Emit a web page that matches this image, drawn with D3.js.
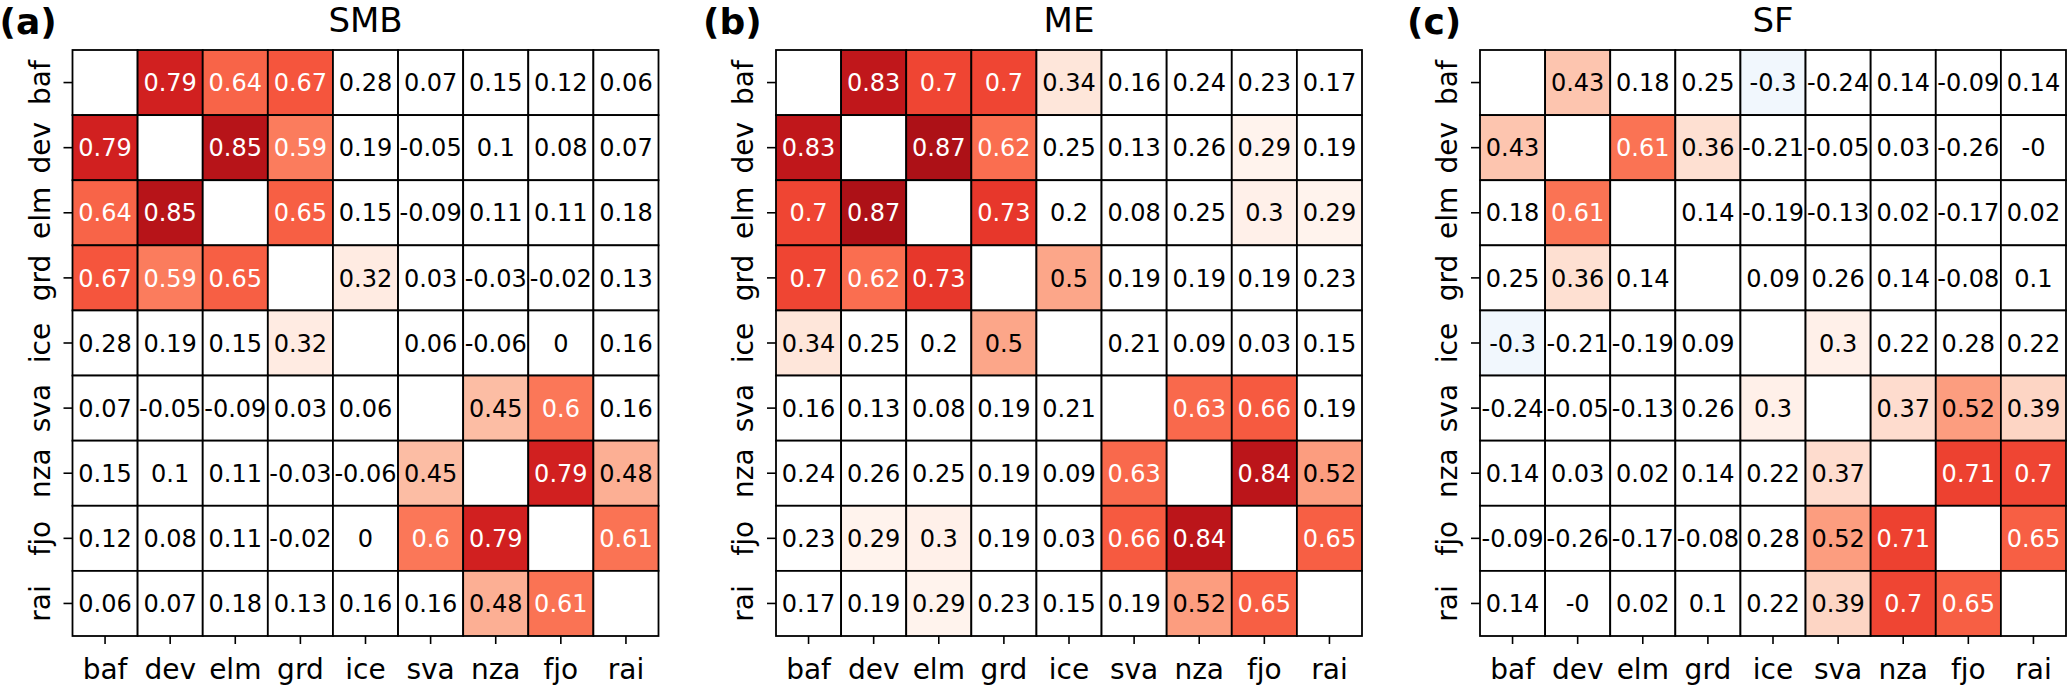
<!DOCTYPE html>
<html lang="en">

<head>
  <meta charset="UTF-8">
  <title>Correlation heatmaps SMB / ME / SF</title>
  <script src="https://cdn.jsdelivr.net/npm/d3@7.9.0/dist/d3.min.js"></script>
  <style>
    html,
    body {
      margin: 0;
      padding: 0;
      background: #fff;
    }

    svg text {
      font-family: "DejaVu Sans", sans-serif;
    }
  </style>
</head>

<body>
  <svg id="chart" width="2067" height="686"></svg>

  <script>
    // regions, same order on both axes
    const regions = ["baf", "dev", "elm", "grd", "ice", "sva", "nza", "fjo", "rai"];
    const panelLetters = ["(a)", "(b)", "(c)"];
    const panelTitles = ["SMB", "ME", "SF"];

    // correlation matrices (null = diagonal, left blank)
    const smbValues = [
      [null, 0.79, 0.64, 0.67, 0.28, 0.07, 0.15, 0.12, 0.06],
      [0.79, null, 0.85, 0.59, 0.19, -0.05, 0.1, 0.08, 0.07],
      [0.64, 0.85, null, 0.65, 0.15, -0.09, 0.11, 0.11, 0.18],
      [0.67, 0.59, 0.65, null, 0.32, 0.03, -0.03, -0.02, 0.13],
      [0.28, 0.19, 0.15, 0.32, null, 0.06, -0.06, 0, 0.16],
      [0.07, -0.05, -0.09, 0.03, 0.06, null, 0.45, 0.6, 0.16],
      [0.15, 0.1, 0.11, -0.03, -0.06, 0.45, null, 0.79, 0.48],
      [0.12, 0.08, 0.11, -0.02, 0, 0.6, 0.79, null, 0.61],
      [0.06, 0.07, 0.18, 0.13, 0.16, 0.16, 0.48, 0.61, null]
    ];

    const meValues = [
      [null, 0.83, 0.7, 0.7, 0.34, 0.16, 0.24, 0.23, 0.17],
      [0.83, null, 0.87, 0.62, 0.25, 0.13, 0.26, 0.29, 0.19],
      [0.7, 0.87, null, 0.73, 0.2, 0.08, 0.25, 0.3, 0.29],
      [0.7, 0.62, 0.73, null, 0.5, 0.19, 0.19, 0.19, 0.23],
      [0.34, 0.25, 0.2, 0.5, null, 0.21, 0.09, 0.03, 0.15],
      [0.16, 0.13, 0.08, 0.19, 0.21, null, 0.63, 0.66, 0.19],
      [0.24, 0.26, 0.25, 0.19, 0.09, 0.63, null, 0.84, 0.52],
      [0.23, 0.29, 0.3, 0.19, 0.03, 0.66, 0.84, null, 0.65],
      [0.17, 0.19, 0.29, 0.23, 0.15, 0.19, 0.52, 0.65, null]
    ];

    const sfValues = [
      [null, 0.43, 0.18, 0.25, -0.3, -0.24, 0.14, -0.09, 0.14],
      [0.43, null, 0.61, 0.36, -0.21, -0.05, 0.03, -0.26, -0],
      [0.18, 0.61, null, 0.14, -0.19, -0.13, 0.02, -0.17, 0.02],
      [0.25, 0.36, 0.14, null, 0.09, 0.26, 0.14, -0.08, 0.1],
      [-0.3, -0.21, -0.19, 0.09, null, 0.3, 0.22, 0.28, 0.22],
      [-0.24, -0.05, -0.13, 0.26, 0.3, null, 0.37, 0.52, 0.39],
      [0.14, 0.03, 0.02, 0.14, 0.22, 0.37, null, 0.71, 0.7],
      [-0.09, -0.26, -0.17, -0.08, 0.28, 0.52, 0.71, null, 0.65],
      [0.14, -0, 0.02, 0.1, 0.22, 0.39, 0.7, 0.65, null]
    ];

    const matrices = [smbValues, meValues, sfValues];

    // --- layout ---
    const size = 586;
    const topY = 50;
    const lefts = [72.5, 776, 1480];

    const svg = d3.select("#chart");

    const x = d3.scaleBand().domain(regions).range([0, size]);
    const y = d3.scaleBand().domain(regions).range([0, size]);

    // white below ~0.28 in magnitude, Reds / Blues beyond
    const thr = 0.285;
    const color = v => {
      if (v >= thr) return d3.interpolateReds((v - 0.28) / 0.7);
      if (v <= -thr) return d3.interpolateBlues((-v - 0.28) / 0.7);
      return "#ffffff";
    };

    const fmt = v => (Object.is(v, -0) ? "-0" : String(v));

    matrices.forEach((m, p) => {
      const g = svg.append("g").attr("transform", `translate(${lefts[p]},${topY})`);

      const cells = [];
      m.forEach((row, i) => row.forEach((v, j) => cells.push({ r: regions[i], c: regions[j], v })));

      g.selectAll("rect.cell")
        .data(cells)
        .join("rect")
        .attr("class", "cell")
        .attr("x", d => x(d.c))
        .attr("y", d => y(d.r))
        .attr("width", x.bandwidth())
        .attr("height", y.bandwidth())
        .attr("fill", d => (d.v === null ? "#ffffff" : color(d.v)))
        .attr("stroke", "#000")
        .attr("stroke-width", 1.8);

      g.selectAll("text.val")
        .data(cells.filter(d => d.v !== null))
        .join("text")
        .attr("class", "val")
        .attr("x", d => x(d.c) + x.bandwidth() / 2)
        .attr("y", d => y(d.r) + y.bandwidth() / 2)
        .attr("dy", "0.36em")
        .attr("text-anchor", "middle")
        .attr("font-size", 24)
        .attr("fill", d => (d.v >= 0.55 ? "#ffffff" : "#000000"))
        .text(d => fmt(d.v));

      // x axis (bottom)
      const xAxis = g.append("g")
        .attr("transform", `translate(0,${size})`)
        .call(d3.axisBottom(x).tickSize(8).tickPadding(10));
      xAxis.select(".domain").remove();
      xAxis.selectAll(".tick line").attr("stroke-width", 1.6);
      xAxis.selectAll(".tick text")
        .attr("font-family", "DejaVu Sans")
        .attr("font-size", 28)
        .attr("fill", "#000")
        .attr("dy", null)
        .attr("y", 43);

      // y axis (left), labels turned vertical
      const yAxis = g.append("g")
        .call(d3.axisLeft(y).tickSize(9).tickPadding(0));
      yAxis.select(".domain").remove();
      yAxis.selectAll(".tick line").attr("stroke-width", 1.6);
      yAxis.selectAll(".tick text")
        .attr("font-family", "DejaVu Sans")
        .attr("font-size", 28)
        .attr("fill", "#000")
        .attr("x", null)
        .attr("dy", null)
        .attr("text-anchor", "middle")
        .attr("transform", "translate(-23,0) rotate(-90)");

      // title and panel letter
      svg.append("text")
        .attr("x", lefts[p] + size / 2)
        .attr("y", 32)
        .attr("text-anchor", "middle")
        .attr("font-size", 34)
        .text(panelTitles[p]);

      svg.append("text")
        .attr("x", lefts[p] - 73)
        .attr("y", 33.5)
        .attr("font-size", 36)
        .attr("font-weight", "bold")
        .text(panelLetters[p]);
    });
  </script>
</body>

</html>
